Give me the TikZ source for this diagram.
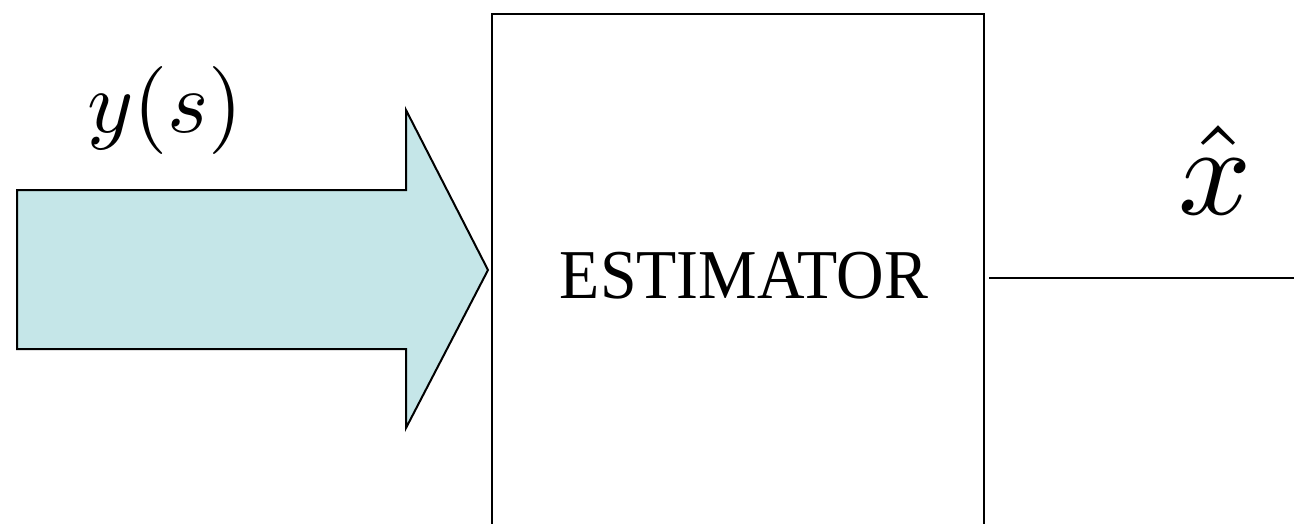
\documentclass[tikz,border=0pt]{standalone}
\usepackage{fontspec}
\newfontfamily\timesfont{Liberation Serif}
\definecolor{arrowfill}{RGB}{197,230,232}
\begin{document}
\begin{tikzpicture}[x=1pt,y=-1pt,
  blockbox/.style={draw=black,line width=2pt,minimum width=492pt,minimum height=523pt,inner sep=0pt,anchor=north west},
  fatarrow/.style={draw=black,line width=2pt,fill=arrowfill,line join=miter},
  sigline/.style={draw=black,line width=2pt},
  lbl/.style={inner sep=0pt}]
\useasboundingbox (0,0) rectangle (1294,523);
\clip (0,0) rectangle (1294,523);
\node[blockbox] (est) at (491,13) {\hspace*{12pt}\scalebox{0.94}[1]{\fontsize{70}{80}\timesfont ESTIMATOR}};
\coordinate (tip) at (488,270);
\draw[fatarrow] (17,190) -- (406,190) -- (406,110) -- (tip) -- (406,428) -- (406,349) -- (17,349) -- cycle;
\coordinate (out) at (1294,278);
\draw[sigline] (est.east |- out) ++(4,0) -- (out);
\node[lbl] (ys) at (165,110) {\scalebox{8.8}{$y(s)$}};
\node[lbl] (xh) at (1215,170) {\scalebox{12.8}{$\hat{x}$}};
\end{tikzpicture}
\end{document}
